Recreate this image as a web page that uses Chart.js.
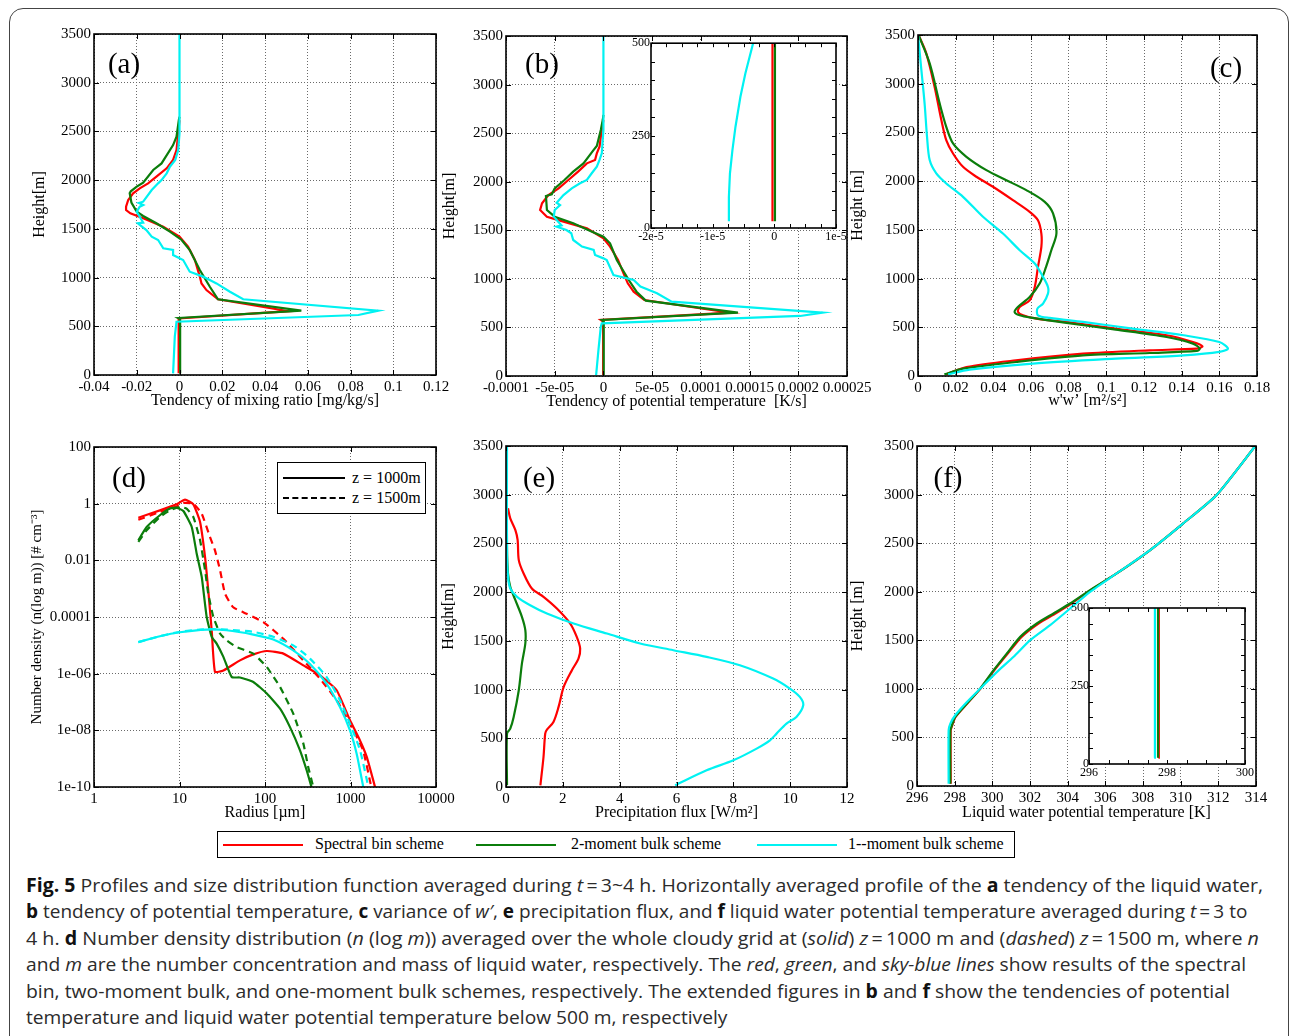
<!DOCTYPE html>
<html><head><meta charset="utf-8">
<script src="https://cdn.jsdelivr.net/npm/chart.js@4.4.1/dist/chart.umd.min.js"></script>
<style>
body{margin:0;background:#fff;width:1290px;height:1036px;overflow:hidden;position:relative;font-family:'Liberation Serif',serif;}
canvas{position:absolute;}
#frame{position:absolute;left:9px;top:8px;width:1280px;height:1045px;border:1.5px solid #444;border-radius:14px;box-sizing:border-box;}
.plbl{position:absolute;font-family:'Liberation Serif',serif;font-size:29px;line-height:1;transform:translate(-50%,-50%);z-index:5;color:#000;}
.cap{position:absolute;left:26px;font-family:'Open Sans',sans-serif;font-size:19px;line-height:26px;white-space:nowrap;color:#2b2b2b;transform-origin:0 50%;z-index:5;}
.cap b{color:#111;}
#leg{position:absolute;left:217px;top:831px;width:798px;height:27px;border:1.5px solid #000;box-sizing:border-box;background:#fff;z-index:5;font-family:'Liberation Serif',serif;font-size:16px;}
#leg .ln{position:absolute;top:11.5px;height:2.5px;width:80px;}
#leg .tx{position:absolute;top:3px;line-height:18px;white-space:nowrap;}
#dleg{position:absolute;left:277px;top:462px;width:149px;height:52px;border:1.5px solid #000;box-sizing:border-box;background:#fff;z-index:5;font-family:'Liberation Serif',serif;font-size:16px;}
#dleg .ln{position:absolute;left:5px;width:62px;height:0;}
#dleg .tx{position:absolute;left:74px;line-height:18px;white-space:nowrap;}
</style></head><body>
<div id="frame"></div>
<script>
// ---------------- DATA ----------------
const heightTicks = [0,500,1000,1500,2000,2500,3000,3500];
const heightLabels = ['0','500','1000','1500','2000','2500','3000','3500'];
const schemeNames = ['Spectral bin scheme','2-moment bulk scheme','1--moment bulk scheme'];

// (a) tendency of mixing ratio
const aXTicks = [-0.04,-0.02,0,0.02,0.04,0.06,0.08,0.1,0.12];
const aXLabels = ['-0.04','-0.02','0','0.02','0.04','0.06','0.08','0.1','0.12'];
const aRedH = [17,580,655,777,872,940,1010,1180,1317,1420,1522,1608,1660,1693,1728,1796,1865,1916,1967,2035,2121,2207,2309,2480,2617];
const aRedX = [-0.0004,-0.0004,0.051,0.018,0.0126,0.0103,0.0095,0.0072,0.004,0.0,-0.0076,-0.017,-0.023,-0.025,-0.025,-0.024,-0.0217,-0.0186,-0.0147,-0.0108,-0.006,-0.003,-0.0014,-0.0006,0.0];
const aGreenH = [17,575,585,660,777,906,1078,1283,1386,1471,1557,1632,1676,1770,1865,1885,1933,1974,2104,2172,2360,2446,2617,2650];
const aGreenX = [0.0003,0.0003,-0.0006,0.057,0.018,0.0142,0.0095,0.0048,0.001,-0.0045,-0.0108,-0.017,-0.020,-0.0225,-0.0233,-0.0228,-0.020,-0.017,-0.0123,-0.0084,-0.003,-0.0014,-0.0003,0.0];
const aCyanH = [17,393,547,616,660,777,855,940,1010,1060,1180,1232,1283,1300,1386,1420,1488,1540,1557,1565,1676,1728,1745,1765,1779,1899,1967,2001,2070,2138,2207,2309,2480,3500];
const aCyanX = [-0.003,-0.0022,-0.0014,0.0837,0.093,0.0298,0.0236,0.0173,0.011,0.0048,0.0017,-0.003,-0.003,-0.0076,-0.010,-0.013,-0.0155,-0.0186,-0.0195,-0.017,-0.020,-0.0186,-0.017,-0.019,-0.017,-0.013,-0.010,-0.0084,-0.006,-0.0045,-0.002,-0.0006,0.0,0.0];

// (b) tendency of potential temperature
const bXTicks = [-0.0001,-0.00005,0,0.00005,0.0001,0.00015,0.0002,0.00025];
const bXLabels = ['-0.0001','-5e-05','0','5e-05','0.0001','0.00015','0.0002','0.00025'];
const bRedH = [10,560,577,652,782,868,954,1023,1194,1332,1417,1520,1589,1640,1709,1778,1863,1932,2018,2104,2189,2224,2292,2361,2533,2635];
const bRedX = [-3e-7,-3e-7,-2.7e-6,1.3e-4,4.2e-5,3.1e-5,2.5e-5,2.2e-5,1.5e-5,6.8e-6,0,-1.7e-5,-4.1e-5,-5.8e-5,-6.5e-5,-6.3e-5,-5.65e-5,-4.6e-5,-3.6e-5,-2.6e-5,-1.7e-5,-8.6e-6,-6.8e-6,-4e-6,-1.7e-6,0];
const bGreenH = [10,560,577,652,776,868,988,1194,1366,1434,1496,1572,1640,1709,1853,1870,1932,2018,2104,2189,2327,2368,2533,2635,2687];
const bGreenX = [3e-7,3e-7,-1.5e-6,1.38e-4,4.35e-5,3.4e-5,2.6e-5,1.37e-5,6.8e-6,0,-1.4e-5,-3.1e-5,-5e-5,-5.8e-5,-5.9e-5,-5.3e-5,-5e-5,-4e-5,-3.1e-5,-2.05e-5,-1e-5,-6.8e-6,-2.7e-6,-7e-7,0];
const bCyanH = [10,268,508,542,618,652,765,851,920,988,1040,1194,1211,1246,1297,1332,1400,1469,1503,1537,1550,1640,1709,1760,1784,1863,1932,1984,2018,2087,2155,2224,2292,2533,3500];
const bCyanX = [-7.5e-6,-5.1e-6,-2.7e-6,-1.7e-6,2.02e-4,2.25e-4,7e-5,5.5e-5,3.8e-5,3.1e-5,1.03e-5,3.4e-6,0,-8.6e-6,-1e-5,-2.2e-5,-3.1e-5,-3.3e-5,-3.8e-5,-4.8e-5,-4.3e-5,-5.1e-5,-5e-5,-4.45e-5,-4.8e-5,-4.1e-5,-3.25e-5,-2.4e-5,-1.7e-5,-1.2e-5,-6.8e-6,-4e-6,-1.7e-6,0,0];
// (b) inset, below 500 m
const bInXTicks = [-2e-5,-1e-5,0,1e-5];
const bInXLabels = ['-2e-5','-1e-5','0','1e-5'];
const inYTicks = [0,250,500];
const inYLabels = ['0','250','500'];
const bInRedH = [18,500];
const bInRedX = [-3e-7,-3e-7];
const bInGreenH = [18,500];
const bInGreenX = [1e-7,1e-7];
const bInCyanH = [18,83,147,210,274,355,418,500];
const bInCyanX = [-7.37e-6,-7.37e-6,-7.2e-6,-6.8e-6,-6.3e-6,-5.5e-6,-4.7e-6,-3.44e-6];

// (c) w'w'
const cXTicks = [0,0.02,0.04,0.06,0.08,0.1,0.12,0.14,0.16,0.18];
const cXLabels = ['0','0.02','0.04','0.06','0.08','0.1','0.12','0.14','0.16','0.18'];
const cRedH = [17,92,161,229,264,281,305,349,418,486,555,589,623,658,709,777,914,1120,1325,1462,1599,1685,1805,1942,2045,2147,2284,2421,2627,2969,3312,3500];
const cRedX = [0.015,0.0257,0.052,0.0876,0.123,0.148,0.151,0.146,0.132,0.105,0.0788,0.0628,0.0558,0.0531,0.054,0.0593,0.062,0.0637,0.0655,0.0655,0.0637,0.0593,0.0504,0.0398,0.031,0.0239,0.0186,0.015,0.0124,0.0088,0.0044,0.0003];
const cGreenH = [17,75,144,212,236,257,281,332,400,476,545,596,623,658,709,812,949,1120,1291,1462,1668,1788,1908,2010,2113,2250,2387,2558,2798,3209,3500];
const cGreenX = [0.014,0.024,0.052,0.0876,0.123,0.148,0.1496,0.146,0.132,0.105,0.0788,0.061,0.054,0.0513,0.053,0.0593,0.0646,0.068,0.0708,0.0735,0.0717,0.0673,0.0575,0.0469,0.0363,0.0257,0.0186,0.015,0.0115,0.0062,0.0003];
const cCyanH = [17,65,127,178,212,247,281,349,418,486,555,596,623,692,743,846,914,1017,1154,1291,1462,1634,1839,1976,2079,2216,2455,2798,3140,3500];
const cCyanX = [0.016,0.0274,0.061,0.105,0.141,0.16,0.1646,0.16,0.141,0.114,0.0876,0.07,0.0637,0.0634,0.0664,0.069,0.069,0.0664,0.062,0.054,0.0451,0.0345,0.0239,0.015,0.0097,0.0062,0.0048,0.0035,0.0018,0.0];

// (d) number density vs radius
const dXTicks = [1,10,100,1000,10000];
const dXLabels = ['1','10','100','1000','10000'];
const dYTicks = [1e-10,1e-8,1e-6,1e-4,1e-2,1,100];
const dYLabels = ['1e-10','1e-08','1e-06','0.0001','0.01','1','100'];
const dRedSolidR = [3.3,5.9,9.27,11.6,14.5,17.4,19.9,21.7,23.8,26,32.6,51,73,105,164,281,440,689,986,1291,1549,1936];
const dRedSolidN = [0.32,0.58,0.95,1.38,0.95,0.225,0.013,8.7e-4,3.4e-5,1.15e-6,1.3e-6,2.95e-6,4.8e-6,6.3e-6,5.1e-6,1.96e-6,8.7e-7,2.6e-7,2.26e-8,4.4e-9,1.15e-9,1e-10];
const dRedDashR = [3.3,5.9,9.27,11.1,14.5,18.2,22.7,26,29.8,34.1,42.5,61,95.6,164,281,440,689,986,1400,1750];
const dRedDashN = [0.27,0.51,0.8,1.06,1.0,0.44,0.067,0.0225,4.5e-3,6.6e-4,2.2e-4,1.3e-4,6.6e-5,1.7e-5,2.95e-6,6.6e-7,1.15e-7,1.7e-8,2e-9,1e-10];
const dGreenSolidR = [3.3,4.13,5.9,7.75,9.27,11.1,13.9,15.9,18.2,20.8,23.8,27.2,32.6,40.8,51,73,105,150,196,256,307,350];
const dGreenSolidN = [0.051,0.15,0.39,0.67,0.72,0.55,0.15,0.017,2.6e-3,1e-4,2e-5,1.15e-5,3.9e-6,7.6e-7,7.3e-7,5.1e-7,2e-7,5.8e-8,1.3e-8,2e-9,3.9e-10,1e-10];
const dGreenDashR = [3.3,4.13,5.9,7.75,10.1,12.1,14.5,17.4,19.9,21.7,24.9,29.8,35.5,46.6,73,105,150,214,281,320,367];
const dGreenDashN = [0.045,0.115,0.34,0.58,0.77,0.67,0.34,0.051,4.5e-3,6.6e-4,1e-4,2.6e-5,1.5e-5,8.7e-6,5.1e-6,1.7e-6,3.4e-7,3.9e-8,3.4e-9,5.1e-10,1e-10];
const dCyanSolidR = [3.3,5.9,10.1,20.8,35.5,73,125,214,336,526,753,986,1180,1410];
const dCyanSolidN = [1.3e-5,2.1e-5,2.9e-5,3.6e-5,3.4e-5,2.4e-5,1.6e-5,6.6e-6,2.2e-6,4.4e-7,6.6e-8,1e-8,1.5e-9,1e-10];
const dCyanDashR = [3.3,5.9,10.1,20.8,35.5,73,125,214,336,526,753,986,1291,1618];
const dCyanDashN = [1.3e-5,2.1e-5,3.0e-5,3.7e-5,3.6e-5,3e-5,2e-5,1e-5,3.4e-6,7.6e-7,1.15e-7,1.7e-8,2e-9,1e-10];

// (e) precipitation flux
const eXTicks = [0,2,4,6,8,10,12];
const eXLabels = ['0','2','4','6','8','10','12'];
const eRedH = [17,308,548,589,668,822,1027,1199,1318,1421,1541,1678,1832,1952,2038,2192,2329,2534,2637,2757,2860];
const eRedX = [1.21,1.32,1.38,1.44,1.67,1.85,2.03,2.32,2.55,2.61,2.49,2.26,1.79,1.32,0.91,0.62,0.45,0.41,0.33,0.15,0.07];
const eGreenH = [17,548,599,719,993,1267,1473,1610,1747,1918,2055,2192,2466,3500];
const eGreenX = [0.035,0.035,0.15,0.27,0.45,0.56,0.68,0.68,0.56,0.33,0.15,0.07,0.035,0.02];
const eCyanH = [17,171,274,394,479,548,651,719,839,925,1010,1113,1250,1336,1404,1473,1575,1678,1781,1866,1952,2038,2158,2363,3500];
const eCyanX = [5.95,7.06,8.0,8.82,9.29,9.52,9.87,10.22,10.46,10.34,9.99,9.40,8.23,7.06,5.89,4.72,3.55,2.38,1.44,0.85,0.39,0.15,0.07,0.035,0.035];

// (f) liquid water potential temperature
const fXTicks = [296,298,300,302,304,306,308,310,312,314];
const fXLabels = ['296','298','300','302','304','306','308','310','312','314'];
const fRedH = [24,574,625,711,849,1003,1192,1364,1535,1673,1776,1879,2016,2188,2429,2704,2996,3494];
const fRedX = [297.79,297.79,297.87,298.05,298.67,299.37,300.1,300.82,301.55,302.45,303.35,304.2,305.22,306.6,308.38,310.14,311.91,313.94];
const fGreenH = [24,574,625,711,849,1003,1192,1364,1535,1673,1776,1879,2016,2188,2429,2704,2996,3494];
const fGreenX = [297.77,297.77,297.85,298.03,298.65,299.36,300.07,300.77,301.48,302.36,303.25,304.13,305.19,306.6,308.38,310.14,311.91,313.94];
const fCyanH = [24,574,642,728,865,1003,1175,1330,1501,1656,1827,1999,2188,2429,2704,2996,3494];
const fCyanX = [297.68,297.68,297.77,298.03,298.65,299.36,300.25,301.13,302.01,303.07,304.13,305.19,306.6,308.38,310.14,311.91,313.94];
// (f) inset, below 500 m
const fInXTicks = [296,298,300];
const fInXLabels = ['296','298','300'];
const fInRedH = [20,500];
const fInRedX = [297.78,297.79];
const fInGreenH = [20,500];
const fInGreenX = [297.77,297.77];
const fInCyanH = [20,500];
const fInCyanX = [297.67,297.69];
</script>
<script>
Chart.defaults.font.family = "'Liberation Serif','Times New Roman',serif";
Chart.defaults.font.size = 15;
Chart.defaults.color = '#000';
const RED = '#ff0000', GREEN = '#0b7d0b', CYAN = '#00f2f2';

const framePlugin = {
  id: 'frame',
  beforeDraw(chart, args, o) {
    if (!o || !o.bg) return;
    const a = chart.chartArea, ctx = chart.ctx;
    ctx.save(); ctx.fillStyle = '#fff';
    ctx.fillRect(a.left, a.top, a.right - a.left, a.bottom - a.top);
    ctx.restore();
  },
  afterDatasetsDraw(chart, args, o) {
    const a = chart.chartArea, ctx = chart.ctx, sx = chart.scales.x, sy = chart.scales.y;
    ctx.save();
    ctx.strokeStyle = '#000';
    ctx.lineWidth = 1;
    const len = o.len || 5;
    ctx.beginPath();
    (o.xt || []).forEach(v => { const p = Math.round(sx.getPixelForValue(v)) + 0.5;
      ctx.moveTo(p, a.bottom); ctx.lineTo(p, a.bottom - len); ctx.moveTo(p, a.top); ctx.lineTo(p, a.top + len); });
    (o.yt || []).forEach(v => { const p = Math.round(sy.getPixelForValue(v)) + 0.5;
      ctx.moveTo(a.left, p); ctx.lineTo(a.left + len, p); ctx.moveTo(a.right, p); ctx.lineTo(a.right - len, p); });
    ctx.stroke();
    ctx.lineWidth = 1.6;
    ctx.strokeRect(a.left, a.top, a.right - a.left, a.bottom - a.top);
    ctx.restore();
  }
};

function pts(xs, ys) { return xs.map((x, i) => ({x: x, y: ys[i]})); }
function line(xs, ys, color, extra) {
  return Object.assign({data: pts(xs, ys), borderColor: color, backgroundColor: color, borderWidth: 2.2,
    pointRadius: 0, showLine: true, fill: false, tension: 0}, extra || {});
}
function axis(type, min, max, ticks, labels, o) {
  return {
    type: type, min: min, max: max,
    afterBuildTicks: s => { s.ticks = ticks.map(v => ({value: v})); },
    ticks: {autoSkip: false, maxRotation: 0, minRotation: 0, padding: o.tpad == null ? 3 : o.tpad,
      font: {size: o.fs || 15}, callback: (v, i) => labels[i]},
    grid: {display: o.grid !== false, color: '#6a6a6a', lineWidth: 1, drawTicks: false},
    border: {display: false, dash: [1, 2]},
    title: o.title ? {display: true, text: o.title, font: {size: o.tfs || 16},
      padding: {top: 12 - (o.tfs || 16) * 0.6, bottom: 12 - (o.tfs || 16) * 0.6}} : {display: false},
    afterFit: o.fit
  };
}
function addChart(b, datasets, xAx, yAx, frame) {
  const c = document.createElement('canvas');
  const w = b.W + b.pl + b.pr, h = b.H + b.pt + b.pb;
  c.width = w; c.height = h;
  c.style.left = (b.L - b.pl) + 'px'; c.style.top = (b.T - b.pt) + 'px';
  c.style.width = w + 'px'; c.style.height = h + 'px';
  c.style.zIndex = b.z || 1;
  document.body.appendChild(c);
  xAx.afterFit = s => { s.height = b.pb; };
  yAx.afterFit = s => { s.width = b.pl; };
  return new Chart(c, {
    type: 'scatter',
    data: {datasets: datasets},
    options: {
      responsive: false, animation: false, devicePixelRatio: 1,
      layout: {padding: {top: b.pt, right: b.pr, left: 0, bottom: 0}},
      plugins: {legend: {display: false}, tooltip: {enabled: false}, frame: frame},
      scales: {x: xAx, y: yAx}
    },
    plugins: [framePlugin]
  });
}
function panelBox(L, T, W, H, yTitleX, xTitleY, tfs) {
  const half = 12;
  return {L: L, T: T, W: W, H: H, pl: L - (yTitleX - half), pt: 15, pr: 30, pb: (xTitleY + half) - (T + H)};
}
const minor = (a, b, s) => { const r = []; for (let v = a; v <= b + s / 2; v += s) r.push(+v.toPrecision(6)); return r; };

// (a)
addChart(panelBox(94, 34, 342, 341, 40, 401),
  [line(aCyanX, aCyanH, CYAN), line(aGreenX, aGreenH, GREEN), line(aRedX, aRedH, RED)],
  axis('linear', -0.04, 0.12, aXTicks, aXLabels, {title: 'Tendency of mixing ratio [mg/kg/s]'}),
  axis('linear', 0, 3500, heightTicks, heightLabels, {title: 'Height[m]'}),
  {xt: aXTicks, yt: heightTicks});
// (b)
addChart(panelBox(506, 36, 341, 340, 450, 402),
  [line(bCyanX, bCyanH, CYAN), line(bGreenX, bGreenH, GREEN), line(bRedX, bRedH, RED)],
  axis('linear', -0.0001, 0.00025, bXTicks, bXLabels, {title: 'Tendency of potential temperature  [K/s]'}),
  axis('linear', 0, 3500, heightTicks, heightLabels, {title: 'Height[m]'}),
  {xt: bXTicks, yt: heightTicks});
// (b) inset
addChart({L: 651, T: 43, W: 185, H: 185, pl: 30, pt: 8, pr: 14, pb: 18, z: 2},
  [line(bInGreenX, bInGreenH, GREEN), line(bInRedX, bInRedH, RED), line(bInCyanX, bInCyanH, CYAN)],
  axis('linear', -2e-5, 1e-5, bInXTicks, bInXLabels, {grid: false, fs: 12, tpad: 2}),
  axis('linear', 0, 500, inYTicks, inYLabels, {grid: false, fs: 12, tpad: 1}),
  {bg: true, xt: minor(-2e-5, 1e-5, 2.5e-6), yt: minor(0, 500, 50), len: 4});
// (c)
addChart(panelBox(918, 35, 339, 341, 858, 401),
  [line(cCyanX, cCyanH, CYAN, {tension: 0.3}), line(cGreenX, cGreenH, GREEN, {tension: 0.3}), line(cRedX, cRedH, RED, {tension: 0.3})],
  axis('linear', 0, 0.18, cXTicks, cXLabels, {title: "w'w\u2019 [m\u00b2/s\u00b2]"}),
  axis('linear', 0, 3500, heightTicks, heightLabels, {title: 'Height [m]'}),
  {xt: cXTicks, yt: heightTicks});
// (d)
addChart(panelBox(94, 447, 342, 340, 37, 813),
  [line(dCyanDashR, dCyanDashN, CYAN, {borderDash: [7, 5], tension: 0.2}), line(dCyanSolidR, dCyanSolidN, CYAN, {tension: 0.2}),
   line(dGreenDashR, dGreenDashN, GREEN, {borderDash: [7, 5], tension: 0.15}), line(dGreenSolidR, dGreenSolidN, GREEN, {tension: 0.15}),
   line(dRedDashR, dRedDashN, RED, {borderDash: [7, 5], tension: 0.15}), line(dRedSolidR, dRedSolidN, RED, {tension: 0.15})],
  axis('logarithmic', 1, 10000, dXTicks, dXLabels, {title: 'Radius [\u00b5m]'}),
  axis('logarithmic', 1e-10, 100, dYTicks, dYLabels, {title: 'Number density (n(log m)) [# cm\u207b\u00b3]', tfs: 15}),
  {xt: dXTicks, yt: dYTicks});
// (e)
addChart(panelBox(506, 446, 341, 341, 449, 813),
  [line(eCyanX, eCyanH, CYAN, {tension: 0.3}), line(eGreenX, eGreenH, GREEN, {tension: 0.3}), line(eRedX, eRedH, RED, {tension: 0.3})],
  axis('linear', 0, 12, eXTicks, eXLabels, {title: 'Precipitation flux [W/m\u00b2]'}),
  axis('linear', 0, 3500, heightTicks, heightLabels, {title: 'Height[m]'}),
  {xt: eXTicks, yt: heightTicks});
// (f)
addChart(panelBox(917, 446, 339, 340, 858, 813),
  [line(fCyanX, fCyanH, CYAN, {tension: 0.2}), line(fGreenX, fGreenH, GREEN, {tension: 0.2}), line(fRedX, fRedH, RED, {tension: 0.2})],
  axis('linear', 296, 314, fXTicks, fXLabels, {title: 'Liquid water potential temperature [K]'}),
  axis('linear', 0, 3500, heightTicks, heightLabels, {title: 'Height [m]'}),
  {xt: fXTicks, yt: heightTicks});
// (f) inset
addChart({L: 1089, T: 608, W: 156, H: 156, pl: 28, pt: 8, pr: 14, pb: 18, z: 2},
  [line(fInCyanX, fInCyanH, CYAN), line(fInGreenX, fInGreenH, GREEN), line(fInRedX, fInRedH, RED)],
  axis('linear', 296, 300, fInXTicks, fInXLabels, {grid: false, fs: 12, tpad: 2}),
  axis('linear', 0, 500, inYTicks, inYLabels, {grid: false, fs: 12, tpad: 0}),
  {bg: true, xt: minor(296, 300, 0.5), yt: minor(0, 500, 50), len: 4});
</script>

<div class="plbl" style="left:124px;top:63px">(a)</div>
<div class="plbl" style="left:542px;top:63px">(b)</div>
<div class="plbl" style="left:1226px;top:67px">(c)</div>
<div class="plbl" style="left:129px;top:477px">(d)</div>
<div class="plbl" style="left:539px;top:477px">(e)</div>
<div class="plbl" style="left:948px;top:477px">(f)</div>

<div id="dleg">
  <div class="ln" style="top:14px;border-top:2px solid #000"></div><div class="tx" style="top:6px">z = 1000m</div>
  <div class="ln" style="top:34px;border-top:2px dashed #000"></div><div class="tx" style="top:26px">z = 1500m</div>
</div>

<div id="leg">
  <div class="ln" style="left:5px;background:#ff0000"></div><div class="tx" id="lg0" style="left:97px"></div>
  <div class="ln" style="left:258px;background:#0b7d0b"></div><div class="tx" id="lg1" style="left:353px"></div>
  <div class="ln" style="left:539px;background:#00f2f2"></div><div class="tx" id="lg2" style="left:630px"></div>
</div>

<div class="cap" data-w="1237" style="top:872px"><b>Fig. 5</b> Profiles and size distribution function averaged during <i>t</i>&#8201;=&#8201;3~4 h. Horizontally averaged profile of the <b>a</b> tendency of the liquid water,</div>
<div class="cap" data-w="1221" style="top:898px"><b>b</b> tendency of potential temperature, <b>c</b> variance of <i>w′</i>, <b>e</b> precipitation flux, and <b>f</b> liquid water potential temperature averaged during <i>t</i>&#8201;=&#8201;3 to</div>
<div class="cap" data-w="1233" style="top:925px">4 h. <b>d</b> Number density distribution (<i>n</i> (log <i>m</i>)) averaged over the whole cloudy grid at (<i>solid</i>) <i>z</i>&#8201;=&#8201;1000 m and (<i>dashed</i>) <i>z</i>&#8201;=&#8201;1500 m, where <i>n</i></div>
<div class="cap" data-w="1220" style="top:951px">and <i>m</i> are the number concentration and mass of liquid water, respectively. The <i>red</i>, <i>green</i>, and <i>sky-blue lines</i> show results of the spectral</div>
<div class="cap" data-w="1204" style="top:978px">bin, two-moment bulk, and one-moment bulk schemes, respectively. The extended figures in <b>b</b> and <b>f</b> show the tendencies of potential</div>
<div class="cap" data-w="701" style="top:1004px">temperature and liquid water potential temperature below 500 m, respectively</div>
<script>
schemeNames.forEach((n, i) => { document.getElementById('lg' + i).textContent = n; });
document.querySelectorAll('.cap').forEach(el => {
  const w = el.scrollWidth, t = +el.dataset.w;
  if (w > 0) el.style.transform = 'scaleX(' + (t / w).toFixed(4) + ')';
});
</script>
</body></html>
